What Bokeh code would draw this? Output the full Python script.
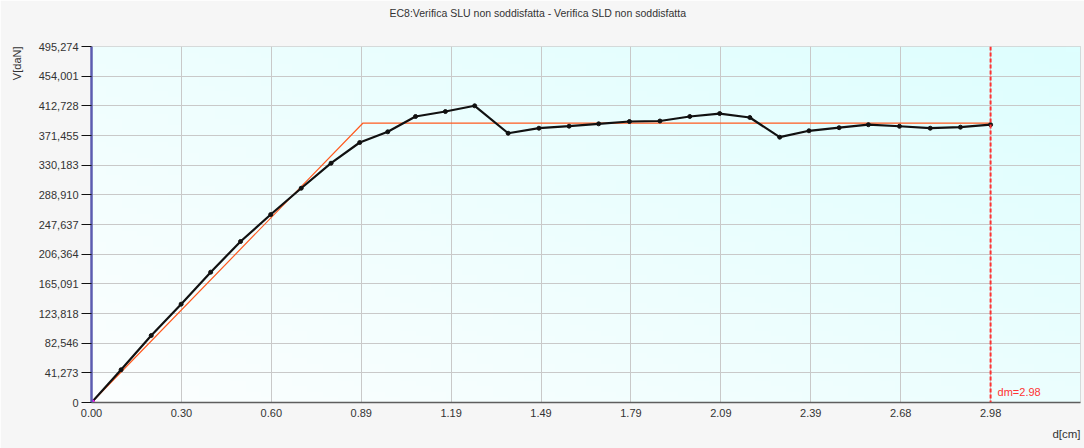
import numpy as np
from bokeh.plotting import figure
from bokeh.models import Range1d, FixedTicker, CustomJSTickFormatter, Span, Label, Title
from bokeh.embed import file_html
from bokeh.resources import INLINE

# ---------------- data ----------------
title_text = "EC8:Verifica SLU non soddisfatta -  Verifica SLD non soddisfatta"
x_label = "d[cm]"
y_label = "V[daN]"

x_tick_values = [0.0, 0.298, 0.596, 0.894, 1.192, 1.49, 1.788, 2.086, 2.384, 2.682, 2.98]
x_tick_labels = ["0.00", "0.30", "0.60", "0.89", "1.19", "1.49", "1.79", "2.09", "2.39", "2.68", "2.98"]

y_tick_values = [0.0, 41.273, 82.546, 123.818, 165.091, 206.364, 247.637, 288.910,
                 330.183, 371.455, 412.728, 454.001, 495.274]
y_tick_labels = ["0", "41,273", "82,546", "123,818", "165,091", "206,364", "247,637", "288,910",
                 "330,183", "371,455", "412,728", "454,001", "495,274"]

curve_d = [0.000, 0.098, 0.198, 0.297, 0.395, 0.494, 0.594, 0.695, 0.794, 0.889,
           0.982, 1.074, 1.173, 1.270, 1.381, 1.483, 1.583, 1.681, 1.783, 1.884,
           1.983, 2.082, 2.182, 2.281, 2.378, 2.478, 2.575, 2.678, 2.780, 2.880, 2.980]
curve_v = [0.0, 45.5, 93.2, 136.8, 181.3, 224.0, 261.5, 298.1, 332.9, 361.7,
           376.6, 397.9, 404.8, 412.8, 374.6, 381.6, 384.4, 387.7, 390.9, 391.6,
           397.9, 402.0, 396.5, 369.1, 378.0, 382.3, 386.5, 384.3, 381.6, 383.0, 386.5]

bilinear_d = [0.0, 0.900, 2.980]
bilinear_v = [0.0, 388.8, 388.8]

dm = 2.98
dm_label = "dm=2.98"
x_max = 3.278
y_max = 495.274

# ---------------- figure ----------------
p = figure(width=1084, height=448, output_backend="svg", toolbar_location=None, title=None,
           x_range=Range1d(0, x_max), y_range=Range1d(0, y_max),
           min_border_left=91, min_border_right=4, min_border_top=46, min_border_bottom=46,
           background_fill_color="#f0fefe", border_fill_color="#f6f6f6",
           outline_line_color="#cfcfcf")

FONT = "Liberation Sans"

# spacer + title above (first added sits next to the frame)
p.add_layout(Title(text=" ", text_font_size="11px", standoff=12), "above")
p.add_layout(Title(text=title_text, align="left", offset=298, text_font=FONT,
                   text_font_size="10.5px", text_font_style="normal", text_color="#333333",
                   vertical_align="top", standoff=0), "above")

# background gradient (bottom-left near white -> top-right light cyan)
n = 64
u = np.linspace(0, 1, n)[None, :]
v = np.linspace(0, 1, n)[:, None]
t = np.clip(0.55 * u + 0.45 * v, 0, 1)
c0 = np.array([252, 254, 254])
c1 = np.array([222, 255, 255])
img = np.zeros((n, n), dtype=np.uint32)
view = img.view(dtype=np.uint8).reshape((n, n, 4))
for k in range(3):
    view[:, :, k] = (c0[k] + (c1[k] - c0[k]) * t).astype(np.uint8)
view[:, :, 3] = 255
p.image_rgba(image=[img], x=0, y=0, dw=x_max, dh=y_max, level="image")

# grids
p.xgrid.ticker = FixedTicker(ticks=x_tick_values)
p.ygrid.ticker = FixedTicker(ticks=y_tick_values)
for g in (p.xgrid, p.ygrid):
    g.grid_line_color = "#c9c9c9"
    g.grid_line_width = 1
    g.level = "underlay"

# axes
fmt_code = """
for (let j = 0; j < vals.length; j++) {
  if (Math.abs(vals[j] - tick) < 1e-6) { return labels[j]; }
}
return "";
"""
p.xaxis.ticker = FixedTicker(ticks=x_tick_values)
p.xaxis.formatter = CustomJSTickFormatter(args=dict(vals=x_tick_values, labels=x_tick_labels), code=fmt_code)
p.yaxis.ticker = FixedTicker(ticks=y_tick_values)
p.yaxis.formatter = CustomJSTickFormatter(args=dict(vals=y_tick_values, labels=y_tick_labels), code=fmt_code)

for ax in (p.xaxis, p.yaxis):
    ax.major_label_text_font = FONT
    ax.major_label_text_font_size = "11px"
    ax.major_label_text_color = "#333333"
    ax.minor_tick_line_color = None
    ax.major_tick_in = 0

p.xaxis.axis_line_color = "#5e5e5e"
p.xaxis.axis_line_width = 1.5
p.xaxis.major_tick_out = 0
p.xaxis.major_label_standoff = 6

p.yaxis.axis_line_color = "#5c5cb0"
p.yaxis.axis_line_width = 2.5
p.yaxis.major_tick_out = 10
p.yaxis.major_tick_line_color = "#111111"
p.yaxis.major_label_standoff = 3

# spacer + axis title on the left
p.add_layout(Title(text=" ", text_font_size="8px", standoff=0), "left")
p.add_layout(Title(text=y_label, align="right", text_font=FONT, text_font_size="11px",
                   text_font_style="normal", text_color="#333333", vertical_align="top",
                   standoff=0), "left")
p.add_layout(Title(text=x_label, align="right", text_font=FONT, text_font_size="11.5px",
                   text_font_style="normal", text_color="#333333", standoff=12), "below")

# bilinear
p.line(bilinear_d, bilinear_v, line_color="#ff5a1f", line_width=1.2)

# curve
p.line(curve_d, curve_v, line_color="#111111", line_width=2.2)
p.scatter(curve_d, curve_v, size=4, fill_color="#111111", line_color="#111111")

# origin marker
p.scatter([curve_d[0]], [curve_v[0]], size=6, marker="circle", fill_color="#ff33ff", line_color="#ff00ff")

# dm line
p.add_layout(Span(location=dm, dimension="height", line_color="#ff3333", line_width=2, line_dash="4 2"))
p.add_layout(Label(x=dm, y=0, text=dm_label, x_offset=7, y_offset=5, text_font=FONT,
                   text_font_size="11px", text_color="#ff3333"))

open("out.html", "w").write(file_html(p, INLINE))
